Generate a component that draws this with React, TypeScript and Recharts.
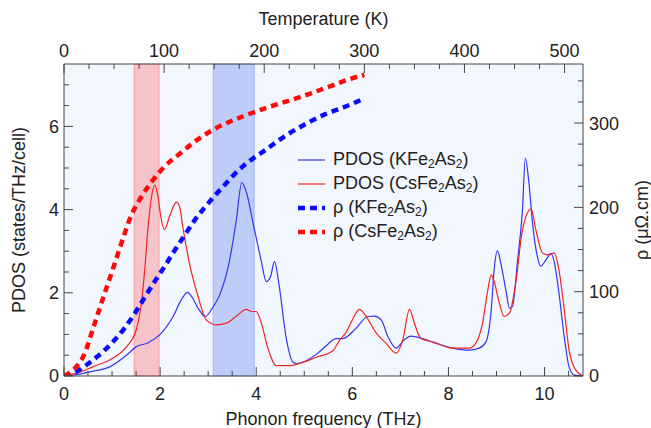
import React from 'react'
import {
  ComposedChart,
  Line,
  XAxis,
  YAxis,
  ReferenceArea,
  Legend,
  CartesianGrid,
} from 'recharts'

// phonon DOS, frequency in THz
const kPdosFreq = [0, 0.3, 0.53, 0.95, 1.3, 1.5, 1.75, 1.99, 2.27, 2.44, 2.57, 2.65, 2.79, 2.94, 3.08, 3.24, 3.44, 3.58, 3.7, 3.8, 3.93, 4.1, 4.21, 4.3, 4.38, 4.48, 4.62, 4.76, 4.83, 5.25, 5.45, 5.66, 5.8, 6.08, 6.32, 6.46, 6.6, 6.74, 6.91, 7.08, 7.22, 7.46, 7.74, 8.09, 8.43, 8.64, 8.78, 8.89, 8.95, 9.02, 9.09, 9.2, 9.27, 9.33, 9.44, 9.54, 9.6, 9.67, 9.75, 9.85, 9.92, 10.03, 10.13, 10.2, 10.3, 10.41, 10.51, 10.62, 10.8]
const kPdosValues = [0, 0.04, 0.1, 0.22, 0.5, 0.7, 0.8, 0.99, 1.43, 1.83, 2.01, 1.92, 1.63, 1.43, 1.62, 1.95, 2.75, 3.7, 4.65, 4.4, 3.7, 2.79, 2.27, 2.4, 2.75, 2.15, 0.94, 0.34, 0.3, 0.52, 0.72, 0.9, 0.9, 1.15, 1.43, 1.44, 1.35, 0.95, 0.67, 0.87, 0.96, 0.9, 0.79, 0.67, 0.62, 0.67, 0.82, 1.59, 2.55, 3.01, 2.71, 2.03, 1.63, 1.67, 2.79, 3.99, 5.24, 4.7, 3.67, 2.87, 2.64, 2.79, 2.95, 2.75, 1.99, 0.94, 0.22, 0.02, 0]

const csPdosFreq = [0, 0.3, 0.6, 1.02, 1.3, 1.5, 1.61, 1.68, 1.75, 1.82, 1.89, 1.95, 2.02, 2.09, 2.2, 2.34, 2.41, 2.47, 2.61, 2.79, 2.96, 3.17, 3.38, 3.6, 3.79, 3.9, 4.0, 4.1, 4.24, 4.42, 4.69, 4.9, 5.25, 5.59, 5.73, 5.87, 6.0, 6.15, 6.29, 6.5, 6.7, 6.91, 7.05, 7.19, 7.29, 7.43, 7.67, 8.09, 8.43, 8.57, 8.71, 8.82, 8.89, 8.95, 9.06, 9.16, 9.27, 9.4, 9.54, 9.72, 9.82, 9.96, 10.1, 10.2, 10.3, 10.41, 10.51, 10.65, 10.8]
const csPdosValues = [0, 0.08, 0.22, 0.43, 0.7, 1.1, 1.75, 2.55, 3.59, 4.3, 4.59, 4.35, 3.79, 3.52, 3.85, 4.18, 4.05, 3.6, 2.71, 1.91, 1.35, 1.23, 1.27, 1.45, 1.6, 1.55, 1.55, 1.3, 0.68, 0.25, 0.25, 0.3, 0.45, 0.6, 0.85, 1.05, 1.35, 1.6, 1.43, 1.03, 0.79, 0.55, 0.87, 1.6, 1.27, 0.9, 0.82, 0.67, 0.67, 0.79, 1.27, 2.07, 2.43, 2.27, 1.75, 1.43, 1.51, 2.23, 3.51, 4.01, 3.51, 2.95, 2.91, 2.96, 2.55, 1.59, 0.63, 0.14, 0]

// resistivity, temperature in K
const kRhoTemp = [0, 10, 20, 30, 40, 50, 60, 70, 80, 90, 100, 110, 120, 130, 140, 150, 160, 170, 180, 190, 200, 220, 240, 260, 280, 298]
const kRhoValues = [0, 4, 11, 20, 30, 42, 56, 73, 92, 111, 129, 148, 166, 184, 199, 213, 226, 239, 250, 259, 267, 284, 298, 310, 319, 328]

const csRhoTemp = [0, 10, 20, 30, 40, 50, 60, 67, 75, 88, 100, 115, 133, 152, 179, 202, 226, 246, 269, 293, 300]
const csRhoValues = [0, 8, 25, 60, 96, 131, 167, 190, 208, 231, 248, 263, 280, 294, 308, 318, 327, 335, 345, 355, 357]

// shaded temperature windows (K)
const bandRanges = [
  { from: 70, to: 95, fill: 'rgb(249,99,101)' },
  { from: 149, to: 190, fill: 'rgb(94,125,238)' },
]

const freqTicks = [0, 0.5, 1, 1.5, 2, 2.5, 3, 3.5, 4, 4.5, 5, 5.5, 6, 6.5, 7, 7.5, 8, 8.5, 9, 9.5, 10, 10.5]
const freqLabels = [0, 2, 4, 6, 8, 10]
const tempTicks = [0, 25, 50, 75, 100, 125, 150, 175, 200, 225, 250, 275, 300, 325, 350, 375, 400, 425, 450, 475, 500]
const tempLabels = [0, 100, 200, 300, 400, 500]
const pdosTicks = [0, 0.5, 1, 1.5, 2, 2.5, 3, 3.5, 4, 4.5, 5, 5.5, 6, 6.5, 7]
const pdosLabels = [0, 2, 4, 6]
const rhoTicks = [0, 25, 50, 75, 100, 125, 150, 175, 200, 225, 250, 275, 300, 325, 350]
const rhoLabels = [0, 100, 200, 300]

const FONT = '"Liberation Sans", Arial, sans-serif'
const INK = '#222'
const FRAME = '#444'

const kPdos = kPdosFreq.map((f, i) => ({ f, v: kPdosValues[i] }))
const csPdos = csPdosFreq.map((f, i) => ({ f, v: csPdosValues[i] }))
const kRho = kRhoTemp.map((t, i) => ({ t, v: kRhoValues[i] }))
const csRho = csRhoTemp.map((t, i) => ({ t, v: csRhoValues[i] }))

const legendItems = [
  { name: 'PDOS', compound: 'KFe2As2', color: '#3535f0', dashed: false },
  { name: 'PDOS', compound: 'CsFe2As2', color: '#f02525', dashed: false },
  { name: 'ρ', compound: 'KFe2As2', color: '#0a0aff', dashed: true },
  { name: 'ρ', compound: 'CsFe2As2', color: '#ff0a0a', dashed: true },
]

// inward ticks, long for labelled values
const FrameTick = (props: any) => {
  const { x, y, payload, side, labels } = props
  const v = payload.value
  const major = labels.includes(v)
  const len = major ? 9 : 5
  const textProps = { fill: INK, fontSize: 18, fontFamily: FONT }
  if (side === 'bottom') {
    return (
      <g>
        <line x1={x} y1={y} x2={x} y2={y - len} stroke={FRAME} />
        {major && <text x={x} y={y + 23.5} textAnchor="middle" {...textProps}>{v}</text>}
      </g>
    )
  }
  if (side === 'top') {
    return (
      <g>
        <line x1={x} y1={y} x2={x} y2={y + len} stroke={FRAME} />
        {major && <text x={x} y={y - 7.5} textAnchor="middle" {...textProps}>{v}</text>}
      </g>
    )
  }
  if (side === 'left') {
    return (
      <g>
        <line x1={x} y1={y} x2={x + len} y2={y} stroke={FRAME} />
        {major && <text x={x - 5} y={y} dy="0.36em" textAnchor="end" {...textProps}>{v}</text>}
      </g>
    )
  }
  return (
    <g>
      <line x1={x} y1={y} x2={x - len} y2={y} stroke={FRAME} />
      {major && <text x={x + 6} y={y} dy="0.36em" textAnchor="start" {...textProps}>{v}</text>}
    </g>
  )
}

const AxisTitle = (props: any) => {
  const { viewBox, side, text } = props
  const { x, y, width, height } = viewBox
  const common = { fill: INK, fontSize: 18, fontFamily: FONT, textAnchor: 'middle' as const }
  if (side === 'bottom') return <text x={x + width / 2} y={y + height - 3} {...common}>{text}</text>
  if (side === 'top') return <text x={x + width / 2} y={y + 25} {...common}>{text}</text>
  const cx = side === 'left' ? x + 25 : x + width - 3
  const cy = y + height / 2
  return (
    <text x={cx} y={cy} transform={`rotate(-90 ${cx} ${cy})`} {...common}>
      {text}
    </text>
  )
}

const Formula = ({ text }: { text: string }) => (
  <>
    {text.split(/(\d+)/).filter(Boolean).map((part, i) =>
      /\d/.test(part) ? (
        <span key={i} style={{ fontSize: 12, position: 'relative', top: 3 }}>{part}</span>
      ) : (
        <span key={i}>{part}</span>
      ),
    )}
  </>
)

const renderLegend = () => (
  <div style={{ fontFamily: FONT, fontSize: 18, color: INK }}>
    {legendItems.map((item) => (
      <div key={item.name + item.compound} style={{ display: 'flex', alignItems: 'center', height: 24, whiteSpace: 'nowrap' }}>
        <svg width={27} height={10} style={{ marginRight: 8 }}>
          <line
            x1={0}
            y1={5}
            x2={27}
            y2={5}
            stroke={item.color}
            strokeWidth={item.dashed ? 4.5 : 1.2}
            strokeDasharray={item.dashed ? '7 5' : undefined}
          />
        </svg>
        <span style={{ lineHeight: '24px' }}>
          {item.name} (<Formula text={item.compound} />)
        </span>
      </div>
    ))}
  </div>
)

export default function App() {
  return (
    <div style={{ position: 'absolute', left: 0, top: 0 }}>
      <ComposedChart width={651} height={428} margin={{ top: 0, right: 0, bottom: 0, left: 0 }}>
        <CartesianGrid xAxisId="freq" yAxisId="pdos" horizontal={false} vertical={false} fill="#f2f7fd" />
        <XAxis
          xAxisId="freq"
          type="number"
          dataKey="f"
          orientation="bottom"
          height={52}
          domain={[0, 10.8]}
          allowDataOverflow
          ticks={freqTicks}
          interval={0}
          tickSize={0}
          tickMargin={0}
          tickLine={false}
          axisLine={{ stroke: FRAME }}
          tick={<FrameTick side="bottom" labels={freqLabels} />}
          label={<AxisTitle side="bottom" text="Phonon frequency (THz)" />}
        />
        <XAxis
          xAxisId="temp"
          type="number"
          dataKey="t"
          orientation="top"
          height={64}
          domain={[0, 518.4]}
          allowDataOverflow
          ticks={tempTicks}
          interval={0}
          tickSize={0}
          tickMargin={0}
          tickLine={false}
          axisLine={{ stroke: FRAME }}
          tick={<FrameTick side="top" labels={tempLabels} />}
          label={<AxisTitle side="top" text="Temperature (K)" />}
        />
        <YAxis
          yAxisId="pdos"
          type="number"
          width={64}
          domain={[0, 7.5]}
          allowDataOverflow
          ticks={pdosTicks}
          interval={0}
          tickSize={0}
          tickMargin={0}
          tickLine={false}
          axisLine={{ stroke: FRAME }}
          tick={<FrameTick side="left" labels={pdosLabels} />}
          label={<AxisTitle side="left" text="PDOS (states/THz/cell)" />}
        />
        <YAxis
          yAxisId="rho"
          orientation="right"
          type="number"
          width={68}
          domain={[0, 370]}
          allowDataOverflow
          ticks={rhoTicks}
          interval={0}
          tickSize={0}
          tickMargin={0}
          tickLine={false}
          axisLine={{ stroke: FRAME }}
          tick={<FrameTick side="right" labels={rhoLabels} />}
          label={<AxisTitle side="right" text="ρ (μΩ.cm)" />}
        />
        <Line xAxisId="freq" yAxisId="pdos" data={kPdos} dataKey="v" type="monotone" stroke="#3535f0" strokeWidth={1.2} dot={false} isAnimationActive={false} />
        <Line xAxisId="freq" yAxisId="pdos" data={csPdos} dataKey="v" type="monotone" stroke="#f02525" strokeWidth={1.2} dot={false} isAnimationActive={false} />
        <Line xAxisId="temp" yAxisId="rho" data={kRho} dataKey="v" type="monotone" stroke="#0a0aff" strokeWidth={4.5} strokeDasharray="7 5" dot={false} isAnimationActive={false} />
        <Line xAxisId="temp" yAxisId="rho" data={csRho} dataKey="v" type="monotone" stroke="#ff0a0a" strokeWidth={4.5} strokeDasharray="7 5" dot={false} isAnimationActive={false} />
        {bandRanges.map((b) => (
          <ReferenceArea
            key={b.from}
            xAxisId="temp"
            yAxisId="rho"
            x1={b.from}
            x2={b.to}
            fill={b.fill}
            fillOpacity={0.35}
            stroke={b.fill}
            strokeOpacity={0.45}
          />
        ))}
        <Legend
          layout="vertical"
          align="center"
          verticalAlign="middle"
          content={renderLegend}
          wrapperStyle={{ left: 298, top: 148, width: 230, height: 96 }}
        />
      </ComposedChart>
    </div>
  )
}
